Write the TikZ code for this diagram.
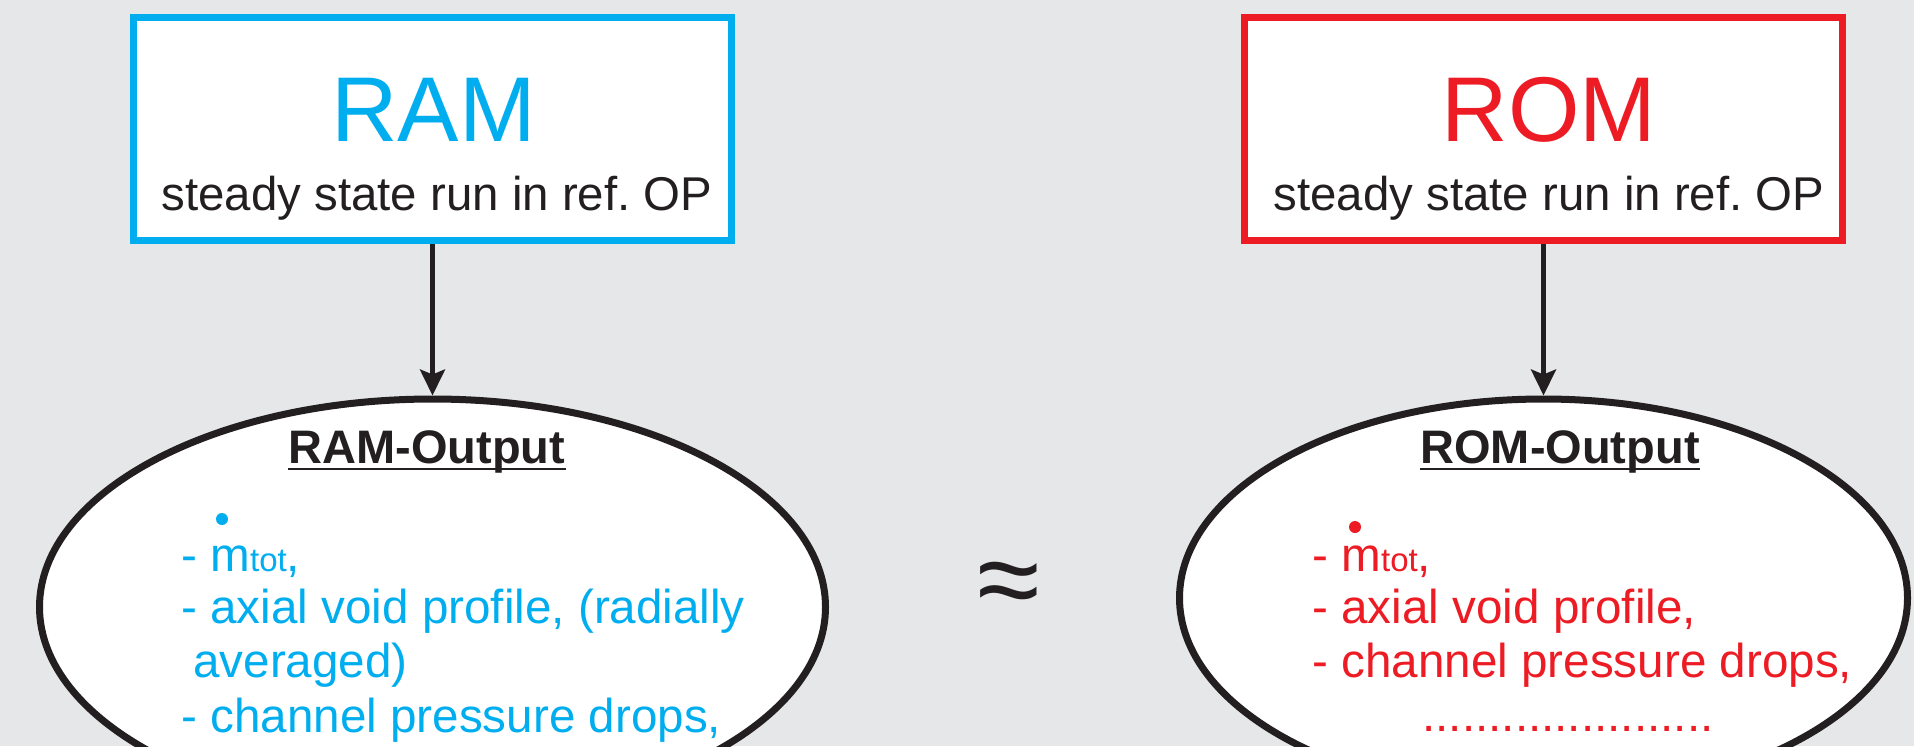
\documentclass[tikz,border=0pt]{standalone}
\usepackage{fontspec}
\setmainfont{Liberation Sans}
\usetikzlibrary{shapes.geometric,arrows.meta}
\definecolor{ramblue}{HTML}{00AEEF}
\definecolor{romred}{HTML}{ED1C24}
\definecolor{ink}{HTML}{231F20}
\definecolor{bgray}{HTML}{E6E7E8}
\frenchspacing
\begin{document}
\begin{tikzpicture}[x=0.5pt,y=-0.5pt,
  box/.style={draw, line width=3.5pt, fill=white, inner sep=0pt, minimum width=299pt, minimum height=111.5pt},
  oval/.style={ellipse, draw=ink, line width=3.5pt, fill=white, inner sep=0pt},
  txt/.style={inner sep=0pt, anchor=base},
  bigtitle/.style={txt, font=\fontsize{46pt}{50pt}\selectfont},
  subtitle/.style={txt, text=ink, font=\fontsize{23.7pt}{28pt}\selectfont},
  outhead/.style={txt, text=ink, font=\bfseries\fontsize{23.5pt}{28pt}\selectfont},
  item/.style={inner sep=0pt, anchor=base west, font=\fontsize{23.8pt}{28pt}\selectfont},
  conn/.style={draw=ink, line width=2.25pt, -{Stealth[length=13pt,width=12.5pt,inset=2.5pt]}},
  uline/.style={draw=ink, line width=1.25pt},
]
\fill[bgray] (0,0) rectangle (1914,746);
\useasboundingbox (0,0) rectangle (1914,746);
\clip (0,0) rectangle (1914,746);

% RAM side
\node[box, draw=ramblue] (rambox) at (432.5,129) {};
\node[bigtitle, text=ramblue] (ramtitle) at (433.5,141) {RAM};
\node[subtitle] (ramsub) at (437,210) {steady state run in ref. OP};
\node[oval, minimum width=393pt, minimum height=208pt] (ramout) at (432.5,607) {};
\draw[conn] (rambox.south) -- (ramout.north);
\node[outhead] (ramhead) at (427,463) {RAM-Output};
\draw[uline] ([yshift=-3pt]ramhead.base west) -- ([yshift=-3pt]ramhead.base east);
\node[item, text=ramblue] (ram1) at (181,571) {- m{\fontsize{16.5pt}{18pt}\selectfont tot},};
\node[item, text=ramblue] (ram2) at (181,623) {- axial void profile, (radially};
\node[item, text=ramblue] (ram3) at (193,677) {averaged)};
\node[item, text=ramblue] (ram4) at (181,732) {- channel pressure drops,};
\fill[ramblue] (222,519) circle (3pt);

% ROM side
\node[box, draw=romred] (rombox) at (1543.5,129) {};
\node[bigtitle, text=romred] (romtitle) at (1549,141) {ROM};
\node[subtitle] (romsub) at (1549,210) {steady state run in ref. OP};
\node[oval, minimum width=364pt, minimum height=199pt] (romout) at (1543.5,598) {};
\draw[conn] (rombox.south) -- (romout.north);
\node[outhead] (romhead) at (1560,463) {ROM-Output};
\draw[uline] ([yshift=-3pt]romhead.base west) -- ([yshift=-3pt]romhead.base east);
\node[item, text=romred] (rom1) at (1312,571) {- m{\fontsize{16.5pt}{18pt}\selectfont tot},};
\node[item, text=romred] (rom2) at (1312,623) {- axial void profile,};
\node[item, text=romred] (rom3) at (1312,677) {- channel pressure drops,};
\node[item, text=romred] (rom4) at (1422,731) {......................};
\fill[romred] (1355,527) circle (3pt);

% approx sign
\node[inner sep=0pt, text=ink, font=\fontsize{57pt}{60pt}\selectfont] (approx) at (1009,590) {≈};
\end{tikzpicture}
\end{document}
